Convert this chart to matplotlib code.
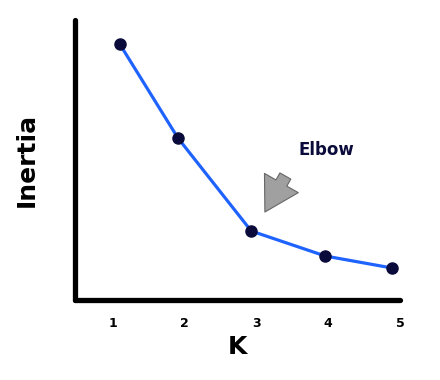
import matplotlib
matplotlib.use("Agg")
import matplotlib.pyplot as plt

# data (inertia in arbitrary units above the x axis)
k_ticks = [1, 2, 3, 4, 5]
k_drawn = [1.10, 1.91, 2.93, 3.96, 4.89]
inertia = [256, 162, 69, 44, 32]
elbow_k = 2.93
elbow_val = 69

fig = plt.figure(figsize=(4.4, 3.8), dpi=100)
ax = fig.add_axes([0.1705, 0.2105, 0.7386, 0.7368])

ax.plot(k_drawn, inertia, color="#1f63ff", lw=2.3, zorder=2)
ax.plot(k_drawn, inertia, "o", color="#0b0b3b", ms=8, zorder=3)

ax.set_xlim(0.478, 4.945)
ax.set_ylim(0, 280)

for s in ["top", "right"]:
    ax.spines[s].set_visible(False)
for s in ["left", "bottom"]:
    ax.spines[s].set_linewidth(3.8)
    ax.spines[s].set_capstyle("round")
    ax.spines[s].set_color("black")

ax.set_yticks([])
ax.set_xticks(k_ticks)
ax.set_xticklabels([str(k) for k in k_ticks], fontsize=9, fontweight="bold")
ax.tick_params(axis="x", length=0, pad=12)
for lab in ax.get_xticklabels():
    lab.set_clip_on(False)

ax.set_xlabel("K", fontsize=18, fontweight="bold", labelpad=4)
ax.set_ylabel("Inertia", fontsize=18, fontweight="bold", labelpad=26)

# elbow marker
ax.text(3.97, 150, "Elbow", fontsize=12, fontweight="bold", color="#0b0b3b",
        ha="center", va="center")
ax.annotate("", xy=(elbow_k + 0.19, elbow_val + 19), xytext=(elbow_k + 0.475, elbow_val + 55),
            arrowprops=dict(arrowstyle="simple,head_length=24,head_width=28,tail_width=9",
                            mutation_scale=1, shrinkA=0, shrinkB=0,
                            fc="#a0a0a0", ec="#666666", lw=0.8))

fig.savefig("out.png", dpi=100)
